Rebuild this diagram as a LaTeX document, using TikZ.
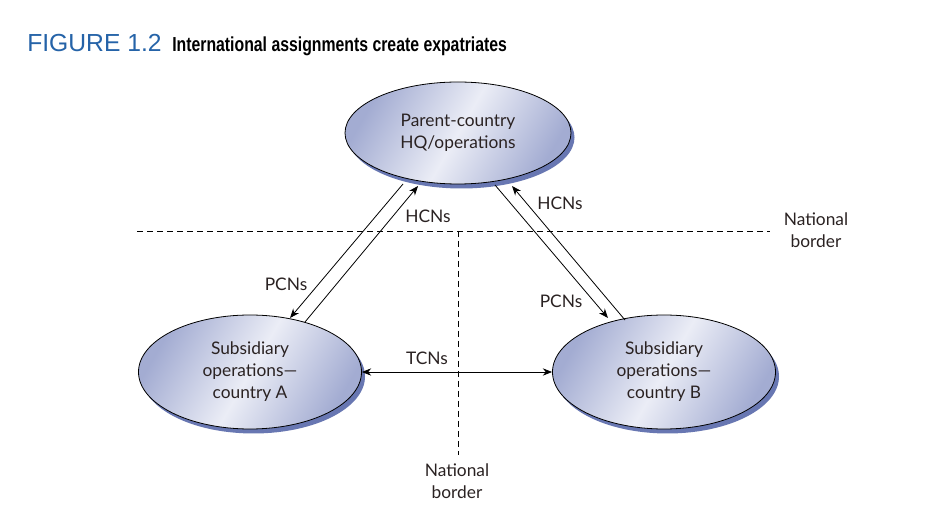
\documentclass[tikz,border=0pt]{standalone}
\usepackage{fontspec}
\setmainfont{Lato}
\newfontfamily\titlefont{Liberation Sans}
\usetikzlibrary{shapes.geometric,arrows.meta}
\definecolor{ovaldark}{HTML}{A3ACD2}
\definecolor{ovallight}{HTML}{EBEDF6}
\definecolor{shadowc}{HTML}{6877B2}
\definecolor{textc}{HTML}{2A2222}
\definecolor{figblue}{HTML}{2563A8}
\begin{document}
\begin{tikzpicture}[x=0.75pt,y=-0.75pt,
  lab/.style={font=\fontsize{13}{16.5}\selectfont, text=textc, align=center, inner sep=0pt},
  oval/.style={ellipse, draw=black, line width=0.6pt, left color=ovaldark, right color=ovaldark, middle color=ovallight, shading angle=60, lab},
  shadowoval/.style={ellipse, fill=shadowc, draw=none},
  arr/.style={-{Stealth[length=7pt,width=5.5pt]}, line width=0.6pt},
  arrboth/.style={{Stealth[length=7pt,width=5.5pt]}-{Stealth[length=7pt,width=5.5pt]}, line width=0.6pt},
  border/.style={line width=0.6pt, dash pattern=on 4.5pt off 3pt}
]
\useasboundingbox (0,0) rectangle (936,520);
\fill[white] (0,0) rectangle (936,520);

% title
\node[anchor=base west, inner sep=0pt, text=figblue, font=\titlefont\fontsize{18.5}{22}\selectfont] (fig) at (27,52) {FIGURE 1.2};
\node[anchor=base west, inner sep=0pt, text=black, font=\titlefont\bfseries\fontsize{15.2}{18}\selectfont] (ttl) at (172,52) {\scalebox{0.78}[1]{International assignments create expatriates}};

% borders
\coordinate (hl) at (137,231);
\coordinate (hr) at (770,231);
\coordinate (vt) at (458,231);
\coordinate (vb) at (458,455);
\draw[border] (hl) -- (hr);
\draw[border] (vt) -- (vb);

% shadows
\node[shadowoval, minimum width=169.5pt, minimum height=76.5pt] (hqs) at (461.5,137.5) {};
\node[shadowoval, minimum width=167.25pt, minimum height=85.5pt] (As) at (253.5,376.5) {};
\node[shadowoval, minimum width=167.25pt, minimum height=85.5pt] (Bs) at (667.5,376.5) {};

% ovals
\node[oval, minimum width=169.5pt, minimum height=76.5pt] (hq) at (458,133) {Parent-country\\HQ/operations};
\node[oval, minimum width=167.25pt, minimum height=85.5pt] (A) at (250,372) {Subsidiary\\operations---\\country A};
\node[oval, minimum width=167.25pt, minimum height=85.5pt] (B) at (664,372) {Subsidiary\\operations---\\country B};

% connectors
\coordinate (hqA1) at (403,184);
\coordinate (A1) at (290,318);
\coordinate (A2) at (305,322);
\coordinate (hqA2) at (418,186);
\coordinate (hqB1) at (495,185);
\coordinate (B1) at (608,318);
\coordinate (B2) at (625,320);
\coordinate (hqB2) at (512,186);
\draw[arr] (hqA1) -- (A1);
\draw[arr] (A2) -- (hqA2);
\draw[arr] (hqB1) -- (B1);
\draw[arr] (B2) -- (hqB2);
\draw[arrboth] (A.east) -- (B.west);

% labels
\node[lab] (l1) at (428,216) {HCNs};
\node[lab] (l2) at (560,203) {HCNs};
\node[lab] (l3) at (286,284) {PCNs};
\node[lab] (l4) at (561,301) {PCNs};
\node[lab] (l5) at (427,358) {TCNs};
\node[lab] (nb1) at (816,230) {National\\border};
\node[lab] (nb2) at (457,481) {National\\border};
\end{tikzpicture}
\end{document}
